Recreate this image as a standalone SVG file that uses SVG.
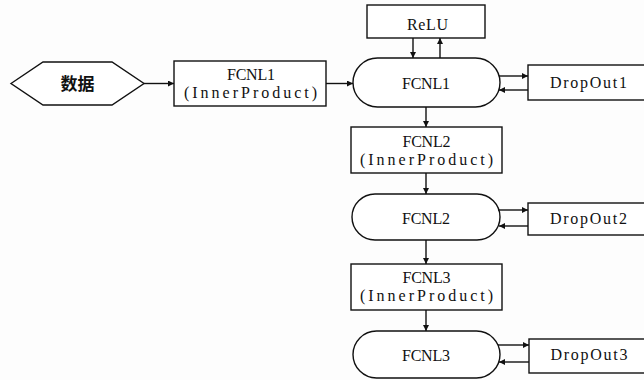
<svg xmlns="http://www.w3.org/2000/svg" width="644" height="380" viewBox="0 0 644 380">
<defs>
<marker id="ah" viewBox="0 0 10 10" refX="10" refY="5" markerWidth="8" markerHeight="6" markerUnits="userSpaceOnUse" orient="auto">
<path d="M0,0 L10,5 L0,10 z" fill="#111"/>
</marker>
<style>
.s{fill:#fff;stroke:#111;stroke-width:1.4}
.t{font-size:16px;fill:#111;text-anchor:middle}
.z{font-weight:bold;font-size:17px;fill:#111;text-anchor:middle}
.c{stroke:#111;stroke-width:1.4;fill:none;marker-end:url(#ah)}
</style>
</defs>
<rect width="644" height="380" fill="#fdfdfd"/>
<g id="data">
<polygon class="s" points="11,83.5 43,62 112,62 144,83.5 112,105 43,105"/>
<text class="z" x="77.5" y="90" font-family="Noto Sans CJK SC, sans-serif">数据</text>
</g>
<g font-family="Liberation Serif, Noto Sans CJK SC, serif">
<g id="ip1">
<rect class="s" x="174" y="61" width="152" height="45"/>
<text class="t" x="251" y="80" textLength="48">FCNL1</text>
<text class="t" x="250.5" y="98" textLength="133">(InnerProduct)</text>
</g>
<g id="relu">
<rect class="s" x="367" y="5" width="118" height="33"/>
<text class="t" x="427.5" y="30" textLength="41">ReLU</text>
</g>
<g id="fc1">
<rect class="s" x="353" y="58" width="147" height="49" rx="24.5" ry="24.5"/>
<text class="t" x="426" y="89" textLength="48">FCNL1</text>
</g>
<g id="do1">
<rect class="s" x="528" y="65" width="125" height="35"/>
<text class="t" x="588.5" y="88" textLength="77">DropOut1</text>
</g>
<g id="ip2">
<rect class="s" x="351" y="127" width="151" height="46"/>
<text class="t" x="426.5" y="147" textLength="48">FCNL2</text>
<text class="t" x="426.5" y="165" textLength="133">(InnerProduct)</text>
</g>
<g id="fc2">
<rect class="s" x="352" y="194" width="148" height="46" rx="23" ry="23"/>
<text class="t" x="426" y="224" textLength="48">FCNL2</text>
</g>
<g id="do2">
<rect class="s" x="528" y="203" width="125" height="32"/>
<text class="t" x="588.5" y="224" textLength="77">DropOut2</text>
</g>
<g id="ip3">
<rect class="s" x="351" y="264" width="151" height="46"/>
<text class="t" x="426.5" y="283" textLength="48">FCNL3</text>
<text class="t" x="426.5" y="301" textLength="133">(InnerProduct)</text>
</g>
<g id="fc3">
<rect class="s" x="353" y="331" width="147" height="47" rx="23.5" ry="23.5"/>
<text class="t" x="426" y="361" textLength="48">FCNL3</text>
</g>
<g id="do3">
<rect class="s" x="529" y="339" width="124" height="34"/>
<text class="t" x="589" y="360" textLength="77">DropOut3</text>
</g>
</g>
<g id="connectors">
<line class="c" x1="144" y1="83.5" x2="174" y2="83.5"/>
<line class="c" x1="326" y1="83.5" x2="353" y2="83.5"/>
<line class="c" x1="413" y1="38" x2="413" y2="58"/>
<line class="c" x1="440" y1="58" x2="440" y2="38"/>
<line class="c" x1="499" y1="76" x2="528" y2="76"/>
<line class="c" x1="528" y1="90" x2="499" y2="90"/>
<line class="c" x1="426" y1="107" x2="426" y2="127"/>
<line class="c" x1="426" y1="173" x2="426" y2="194"/>
<line class="c" x1="498" y1="210" x2="528" y2="210"/>
<line class="c" x1="528" y1="226" x2="499" y2="226"/>
<line class="c" x1="426" y1="240" x2="426" y2="264"/>
<line class="c" x1="426" y1="310" x2="426" y2="331"/>
<line class="c" x1="498" y1="345" x2="529" y2="345"/>
<line class="c" x1="529" y1="362" x2="499" y2="362"/>
</g>
</svg>
